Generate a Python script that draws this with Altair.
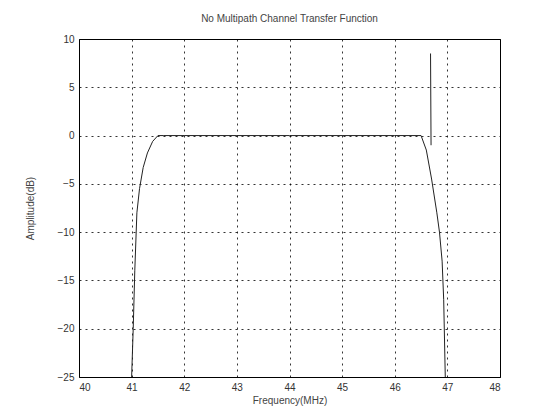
import altair as alt
import pandas as pd

# Channel transfer function
freq_main = [41.0, 41.03, 41.06, 41.1, 41.15, 41.22, 41.3, 41.4, 41.5, 41.6,
             42.0, 43.0, 44.0, 45.0, 46.0, 46.5, 46.6, 46.7, 46.8, 46.85,
             46.9, 46.93, 46.96]
amp_main = [-25, -20, -14, -8, -5.5, -3.3, -1.8, -0.6, 0, 0,
            0, 0, 0, 0, 0, 0, -1.5, -4.5, -8, -10,
            -13, -17, -25]
freq_spike = [46.68, 46.69]
amp_spike = [8.5, -1]

x_ticks = [40, 41, 42, 43, 44, 45, 46, 47, 48]
y_ticks = [10, 5, 0, -5, -10, -15, -20, -25]

df = pd.concat([
    pd.DataFrame({"f": freq_main, "a": amp_main, "seg": "main"}),
    pd.DataFrame({"f": freq_spike, "a": amp_spike, "seg": "spike"}),
])

x_enc = alt.X("f:Q", scale=alt.Scale(domain=[40, 48], nice=False),
              axis=alt.Axis(values=x_ticks, title="Frequency(MHz)", format="d"))
y_enc = alt.Y("a:Q", scale=alt.Scale(domain=[-25, 10], nice=False),
              axis=alt.Axis(values=y_ticks, title="Amplitude(dB)", format="d"))

line = alt.Chart(df).mark_line(color="#222222", strokeWidth=1).encode(
    x=x_enc, y=y_enc, detail="seg:N"
)

chart = line.properties(
    width=421, height=338,
    title=alt.TitleParams("No Multipath Channel Transfer Function",
                          fontSize=10, fontWeight="normal", color="#444444",
                          font="Liberation Sans", offset=10),
    autosize=alt.AutoSizeParams(type="none"),
    padding={"left": 79, "top": 39, "right": 41, "bottom": 40},
).configure_view(
    stroke="black", strokeWidth=1
).configure_axis(
    grid=True, gridColor="black", gridDash=[2, 4], gridOpacity=0.8, gridWidth=1,
    domain=False, ticks=False,
    labelFont="Liberation Sans", labelFontSize=10, labelColor="#333333",
    titleFont="Liberation Sans", titleFontSize=10, titleFontWeight="normal",
    titleColor="#444444", labelPadding=5,
).configure_axisY(
    titlePadding=22
).configure_axisX(
    titlePadding=3
)

chart.save("out.html", embed_options={"renderer": "svg", "actions": False})
